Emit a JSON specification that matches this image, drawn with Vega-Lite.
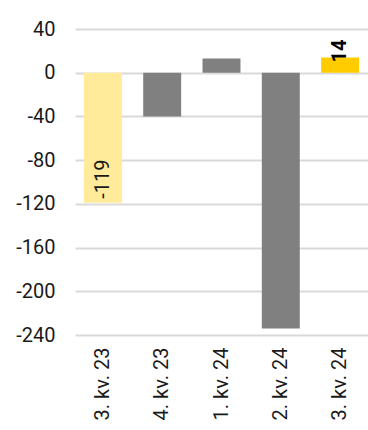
{
  "$schema": "https://vega.github.io/schema/vega-lite/v6.json",
  "width": 293,
  "height": 306,
  "autosize": {"type": "none"},
  "padding": {"left": 75, "top": 29, "right": 0, "bottom": 95},
  "background": "white",
  "config": {
    "view": {"stroke": null},
    "font": "Roboto",
    "axis": {"labelFont": "Roboto", "labelFontSize": 20, "labelColor": "#1a1a1a", "domain": false, "ticks": false}
  },
  "data": {
    "values": [
      {"quarter": "3. kv. 23", "value": -119, "label": "-119", "group": "prior"},
      {"quarter": "4. kv. 23", "value": -40, "label": "-40", "group": "other"},
      {"quarter": "1. kv. 24", "value": 13, "label": "13", "group": "other"},
      {"quarter": "2. kv. 24", "value": -234, "label": "-234", "group": "other"},
      {"quarter": "3. kv. 24", "value": 14, "label": "14", "group": "current"}
    ]
  },
  "encoding": {
    "x": {
      "field": "quarter", "type": "nominal", "sort": null, "title": null,
      "scale": {"paddingInner": 0.36, "paddingOuter": 0.15},
      "axis": {"labelAngle": 270, "labelAlign": "right", "labelBaseline": "middle", "labelPadding": 12, "grid": false}
    },
    "y": {
      "field": "value", "type": "quantitative", "title": null,
      "scale": {"domain": [-240, 40], "nice": false, "zero": false},
      "axis": {"values": [-240, -200, -160, -120, -80, -40, 0, 40], "labelExpr": "toString(datum.value)", "grid": true, "gridColor": "#d9d9d9", "gridWidth": 2, "labelPadding": 20}
    }
  },
  "layer": [
    {
      "mark": {"type": "bar"},
      "encoding": {
        "color": {
          "field": "group", "type": "nominal", "legend": null,
          "scale": {"domain": ["prior", "other", "current"], "range": ["#ffeb99", "#808080", "#ffcc00"]}
        }
      }
    },
    {
      "transform": [{"filter": "datum.quarter === '3. kv. 23'"}],
      "mark": {"type": "text", "angle": 270, "align": "left", "baseline": "middle", "dx": 4, "fontSize": 20, "color": "#1a1a1a", "font": "Roboto"},
      "encoding": {"text": {"field": "label", "type": "nominal"}}
    },
    {
      "transform": [{"filter": "datum.quarter === '3. kv. 24'"}],
      "mark": {"type": "text", "angle": 270, "align": "left", "baseline": "middle", "dx": -5, "fontSize": 20, "fontWeight": "bold", "color": "#000000", "font": "Roboto"},
      "encoding": {"text": {"field": "label", "type": "nominal"}}
    }
  ]
}
